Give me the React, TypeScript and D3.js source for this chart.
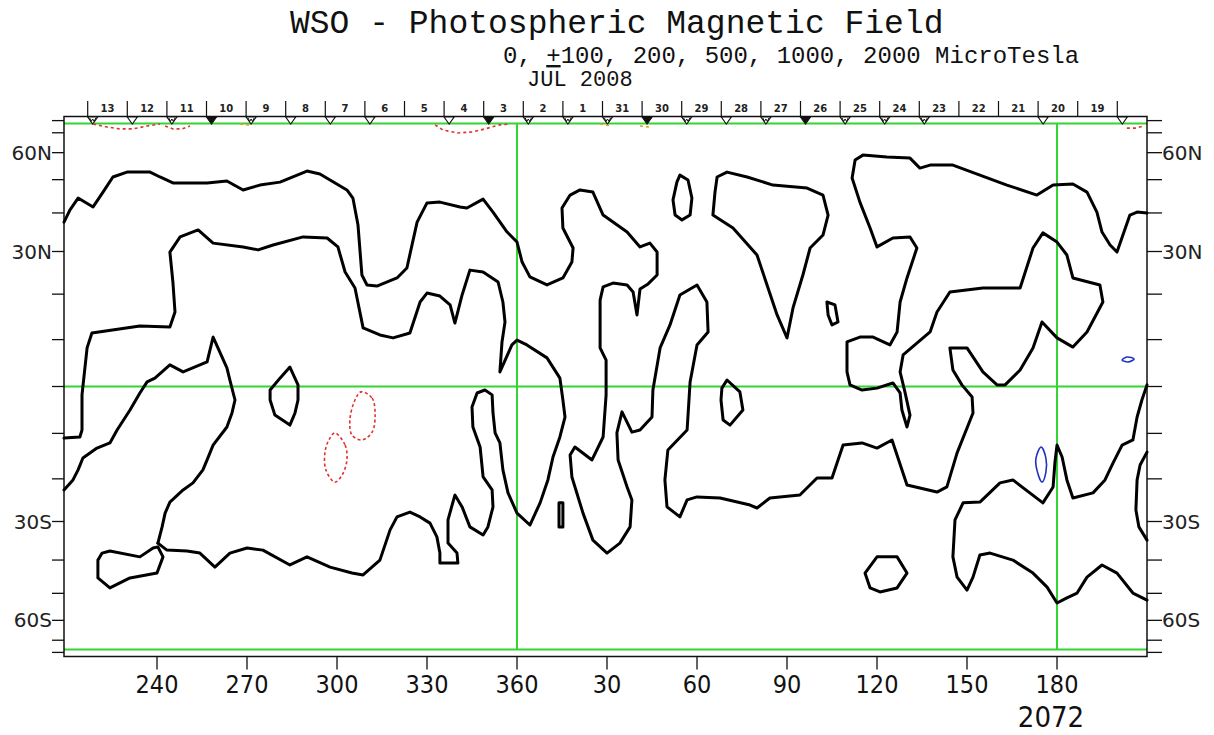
import React from 'react';
import * as d3 from 'd3';

// WSO synoptic map, Carrington rotation 2072.
// x: map longitude 210 -> 570 (one rotation, labels shown mod 360)
// y: sine latitude, -1 -> 1

const lonTicks = [240, 270, 300, 330, 360, 390, 420, 450, 480, 510, 540];
const lonTickLabels = ['240', '270', '300', '330', '360', '30', '60', '90', '120', '150', '180'];
const latTickDegs = [-80, -70, -60, -50, -40, -30, -20, -10, 0, 10, 20, 30, 40, 50, 60, 70, 80];
const latLabelDegs = [60, 30, -30, -60];
const latLabels = ['60N', '30N', '30S', '60S'];

// day bar along the top (July 2008 back into June)
const dayLabels = ['13', '12', '11', '10', '9', '8', '7', '6', '5', '4', '3', '2', '1', '31', '30', '29', '28', '27', '26', '25', '24', '23', '22', '21', '20', '19'];
const dayStartLon = 216.9;
const dayStepLon = 13.2;
// observation marks under each day boundary: v open, w double, f filled, - none
const dayMarks = ['w', 'v', 'w', 'f', 'w', 'v', 'v', 'v', '-', 'v', 'f', 'w', 'w', 'w', 'f', 'w', 'v', 'w', 'f', 'w', 'w', 'w', '-', '-', 'v', '-', 'v'];

// neutral line (0 contour), [lon, sinLat]
const neutralA = [[209,0.609],[211,0.654],[213.7,0.698],[218.7,0.665],[222,0.72],[225.3,0.776],[230,0.794],[237.7,0.794],[241,0.776],[245.3,0.754],[256.7,0.754],[263.3,0.761],[268.7,0.728],[274.3,0.746],[281,0.757],[290,0.798],[294.3,0.787],[303.3,0.728],[305.3,0.698],[307,0.598],[308.3,0.413],[310,0.376],[313.3,0.372],[320,0.402],[323.3,0.439],[326.7,0.609],[330,0.68],[334.3,0.683],[341,0.665],[343.3,0.661],[348.7,0.694],[352,0.646],[356.7,0.572],[360,0.535],[361.7,0.461],[364.3,0.406],[370,0.376],[375.3,0.402],[378.3,0.461],[378.7,0.513],[375.3,0.587],[375,0.661],[377.7,0.709],[381,0.728],[385.3,0.72],[388.7,0.635],[396.7,0.572],[401,0.517],[404.3,0.531],[406.7,0.498],[406.7,0.413],[403.7,0.38],[401,0.361],[400,0.265],[398.7,0.35],[396.7,0.376],[392,0.383],[388.7,0.369],[387.7,0.32],[387.7,0.143],[389.7,0.098],[389.7,-0.031],[388.7,-0.187],[385,-0.272],[379.3,-0.224],[377.7,-0.254],[378.3,-0.335],[382,-0.469],[385.3,-0.569],[390,-0.617],[394.3,-0.58],[397.7,-0.52],[398.3,-0.42],[396.7,-0.372],[393.7,-0.272],[393.3,-0.172],[395,-0.094],[398.3,-0.169],[401,-0.161],[405,-0.113],[405.3,-0.013],[407.7,0.143],[411,0.228],[414.3,0.339],[420,0.376],[423.3,0.313],[423.7,0.202],[420,0.154],[417.7,0.017],[416.7,-0.161],[410.3,-0.235],[409.3,-0.346],[410,-0.446],[414.3,-0.483],[416.7,-0.42],[420,-0.409],[427.7,-0.413],[437.7,-0.439],[440,-0.45],[444.3,-0.413],[454.3,-0.402],[460,-0.339],[465,-0.339],[468.7,-0.217],[475,-0.209],[480,-0.228],[485,-0.198],[490,-0.365],[500,-0.391],[503.3,-0.372],[506.7,-0.246],[512,-0.098],[511.7,-0.039],[508.3,0.006],[505.3,0.061],[504.3,0.143],[510,0.143],[515.3,0.054],[520,0.006],[522.7,0.006],[527.7,0.061],[532,0.143],[535,0.239],[540,0.18],[545.3,0.146],[550,0.202],[555.3,0.313],[554.3,0.376],[545.3,0.402],[543.3,0.487],[540,0.535],[535.3,0.569],[532,0.513],[527.7,0.365],[515.3,0.365],[504.3,0.35],[500,0.276],[497.7,0.202],[488.7,0.117],[487.7,0.054],[489.3,-0.02],[491,-0.106],[490,-0.15],[488.3,-0.087],[487.7,-0.024],[485.3,0.013],[480,-0.006],[475,-0.013],[471,0.006],[470,0.054],[470,0.165],[474.3,0.183],[478.7,0.183],[484.3,0.154],[486.7,0.202],[487.7,0.313],[490,0.402],[493.3,0.513],[491,0.554],[485.3,0.55],[480,0.517],[477.7,0.587],[474.3,0.683],[471.7,0.772],[472.7,0.839],[475.3,0.857],[483.3,0.85],[491,0.846],[494.3,0.809],[497.7,0.82],[505.3,0.82],[514.3,0.783],[523.3,0.746],[533.3,0.709],[538.7,0.746],[545.3,0.75],[550,0.72],[553.3,0.646],[555,0.572],[557.7,0.524],[560,0.498],[564.3,0.635],[566.7,0.646],[570,0.643]];
const neutralB = [[209,-0.191],[214.3,-0.187],[215,-0.161],[215,-0.031],[216.7,0.143],[218.3,0.198],[234.3,0.224],[244.3,0.22],[246,0.276],[245.3,0.387],[244.3,0.498],[247.7,0.554],[253.7,0.58],[258.7,0.531],[268.7,0.517],[273.7,0.506],[278.7,0.524],[288.7,0.554],[296.7,0.55],[300.3,0.517],[302.7,0.424],[306,0.365],[308.7,0.217],[314.3,0.191],[318.7,0.18],[324.3,0.198],[327.7,0.313],[330,0.346],[334.3,0.335],[337.7,0.302],[339.3,0.235],[341.7,0.339],[344.3,0.431],[348.7,0.424],[353.7,0.387],[355.3,0.313],[356,0.239],[355,0.165],[354.3,0.054],[358.3,0.154],[360,0.172],[363.3,0.154],[370,0.106],[374.3,0.031],[375.3,-0.05],[376,-0.113],[374.3,-0.187],[372,-0.261],[370.3,-0.346],[367.7,-0.431],[364.3,-0.513],[360,-0.469],[357,-0.394],[355.3,-0.309],[354.3,-0.209],[352.7,-0.172],[352,-0.098],[351.7,-0.031],[349.3,-0.013],[346.7,-0.024],[345,-0.076],[345.3,-0.15],[347.7,-0.224],[348.7,-0.335],[351.7,-0.383],[352,-0.446],[350.3,-0.52],[348.7,-0.55],[344.3,-0.52],[341.7,-0.446],[339.3,-0.402],[337,-0.494],[337,-0.58],[340,-0.617],[340.3,-0.654],[334.3,-0.654],[334.3,-0.617],[333.3,-0.557],[331,-0.506],[327.7,-0.483],[324.3,-0.465],[320,-0.483],[317.7,-0.531],[314.3,-0.643],[308.7,-0.698],[305,-0.691],[297.7,-0.669],[290,-0.631],[284.3,-0.661],[275.3,-0.606],[270,-0.598],[264.3,-0.617],[259.3,-0.669],[254.3,-0.617],[250,-0.609],[243.3,-0.606],[240.3,-0.58]];
const neutralC = [[240.3,-0.58],[241.7,-0.52],[242.7,-0.469],[244.3,-0.428],[248.7,-0.383],[252,-0.357],[255.3,-0.309],[256.7,-0.272],[258.7,-0.217],[263.3,-0.15],[265,-0.098],[266,-0.05],[264.3,0.024],[263.3,0.069],[258.7,0.183],[256.7,0.091],[248.7,0.054],[244.3,0.08],[239.3,0.031],[236.7,0.017],[234.3,-0.024],[231,-0.087],[226.7,-0.161],[224.3,-0.209],[220,-0.228],[215.3,-0.265],[213.7,-0.309],[212,-0.346],[209,-0.383]];
const neutralD = [[570,0.006],[568.3,-0.05],[566.7,-0.113],[565.3,-0.198],[561.7,-0.217],[558.7,-0.283],[556,-0.346],[552,-0.394],[545.3,-0.413],[543.3,-0.346],[541.7,-0.261],[540,-0.217],[539.3,-0.283],[538.7,-0.372],[535.3,-0.431],[525.3,-0.346],[521,-0.357],[514.3,-0.428],[508.7,-0.431],[506,-0.494],[505.3,-0.631],[506.7,-0.706],[510,-0.754],[512,-0.706],[514.3,-0.624],[517.7,-0.617],[525.3,-0.643],[532,-0.691],[536.7,-0.743],[540,-0.802],[543.3,-0.783],[546.7,-0.765],[550,-0.706],[555,-0.661],[560,-0.691],[565.3,-0.765],[570,-0.791]];
const neutralE = [[570,-0.243],[567.7,-0.291],[566.7,-0.346],[566.3,-0.457],[567.3,-0.52],[570,-0.569]];

// closed neutral-line islands
const islandSouthLobe = [[240.3,-0.594],[242,-0.631],[240,-0.691],[231,-0.709],[224.3,-0.746],[220.3,-0.709],[220.3,-0.643],[221.7,-0.617],[224.3,-0.609],[234.3,-0.631],[238.7,-0.598]];
const islandEq285 = [[284.3,0.072],[287,0.006],[287,-0.05],[286,-0.098],[284.3,-0.143],[279.3,-0.106],[277.7,-0.05],[277.7,-0.013],[281,0.031]];
const islandEq70 = [[430,0.024],[434.3,-0.02],[435.3,-0.087],[431,-0.143],[428.7,-0.124],[428,-0.05],[428.3,-0.006]];
const islandDash15 = [[374,-0.431],[375.3,-0.431],[375.3,-0.52],[374,-0.52]];
const islandNorth55 = [[414.3,0.783],[417,0.765],[418.3,0.698],[417.7,0.635],[415,0.617],[412.7,0.635],[412,0.691],[413.3,0.757]];
const islandTriangle = [[426.7,0.776],[430,0.794],[436.7,0.776],[445.3,0.746],[456.7,0.735],[462,0.709],[463.7,0.635],[462,0.561],[457.7,0.513],[455.3,0.413],[452,0.291],[450,0.18],[446.7,0.265],[440,0.487],[432,0.587],[425.3,0.635],[426,0.72]];
const islandSmall105 = [[463.3,0.313],[466,0.302],[467,0.239],[465,0.228],[463.7,0.265]];
const islandHex = [[476,-0.691],[480,-0.631],[486.7,-0.631],[490,-0.691],[486.7,-0.746],[481,-0.761],[477.7,-0.746]];

// negative (red dashed) and positive (blue) 100 uT contours
const negPolarArcs = [
  [[218.7,0.972],[223.3,0.961],[227.7,0.954],[232,0.954],[236.7,0.965],[241,0.972]],
  [[242.7,0.965],[245.3,0.954],[248.3,0.954],[251,0.965]],
  [[332.7,0.969],[335.3,0.95],[340.3,0.939],[345.3,0.943],[350.3,0.957],[354.3,0.969],[357.7,0.972]],
  [[563.3,0.957],[566.3,0.957],[569,0.965]],
];
const negLoops = [
  [[308,-0.02],[311.7,-0.043],[312.7,-0.106],[311.7,-0.169],[308.3,-0.198],[305,-0.18],[304.3,-0.124],[306,-0.05]],
  [[299.3,-0.172],[302.7,-0.217],[303.3,-0.272],[301.7,-0.328],[299.3,-0.354],[296.3,-0.309],[296,-0.243],[297.3,-0.198]],
];
const orangeBits = [
  [[267.7,0.972],[271.7,0.968]],
  [[387.7,0.972],[391.7,0.965]],
  [[401,0.965],[404.3,0.961]],
];
const posLoops = [
  [[561.7,0.098],[563.3,0.109],[565.7,0.102],[563.7,0.091]],
  [[534.7,-0.224],[536.3,-0.265],[536.3,-0.317],[535,-0.354],[533.3,-0.309],[533,-0.265]],
];

const openLines = [neutralA, neutralB, neutralC, neutralD, neutralE];
const closedLines = [islandSouthLobe, islandEq285, islandEq70, islandDash15, islandNorth55, islandTriangle, islandSmall105, islandHex];

const GREEN = '#35d435';

export default function App() {
  const W = 1214;
  const H = 735;
  const xs = d3.scaleLinear().domain([210, 570]).range([67, 1147]);
  const ys = d3.scaleLinear().domain([-1, 1]).range([656.5, 116.5]);
  const sinDeg = (d: number) => Math.sin((d * Math.PI) / 180);

  const line = d3.line<number[]>().x(d => xs(d[0])).y(d => ys(d[1]));
  const loop = d3.line<number[]>().x(d => xs(d[0])).y(d => ys(d[1])).curve(d3.curveLinearClosed);
  const smoothLoop = d3.line<number[]>().x(d => xs(d[0])).y(d => ys(d[1])).curve(d3.curveCatmullRomClosed);

  const left = xs(209);
  const right = xs(570);
  const top = ys(1);
  const bottom = ys(-1);
  const gTop = ys(0.974);
  const gBot = ys(-0.974);

  const numFont = "'Liberation Sans Narrow', 'DejaVu Sans Condensed', sans-serif";
  const monoFont = "'Liberation Mono', 'DejaVu Sans Mono', monospace";

  return (
    <svg width={W} height={H} style={{ position: 'absolute', left: 0, top: 0, background: '#fff' }}>
      <rect width={W} height={H} fill="#fff" />

      {/* titles */}
      <text x={290} y={33} fontFamily={monoFont} fontSize={33} fill="#111">WSO - Photospheric Magnetic Field</text>
      <text x={503} y={63} fontFamily={monoFont} fontSize={24} fill="#111">
        0, <tspan textDecoration="underline">+</tspan>100, 200, 500, 1000, 2000 MicroTesla
      </text>
      <text x={527} y={86} fontFamily={monoFont} fontSize={22} fill="#111">JUL 2008</text>

      {/* green reference lines */}
      <g stroke={GREEN} strokeWidth={2}>
        <line x1={left} x2={right} y1={gTop} y2={gTop} />
        <line x1={left} x2={right} y1={gBot} y2={gBot} />
        <line x1={left} x2={right} y1={ys(0)} y2={ys(0)} />
        <line x1={xs(360)} x2={xs(360)} y1={gTop} y2={gBot} />
        <line x1={xs(540)} x2={xs(540)} y1={gTop} y2={gBot} />
      </g>

      {/* frame */}
      <rect x={left} y={top} width={right - left} height={bottom - top} fill="none" stroke="#111" strokeWidth={1.5} />

      {/* latitude ticks and labels */}
      <g stroke="#111" strokeWidth={1.3}>
        {latTickDegs.map(d => (
          <g key={d}>
            <line x1={left - 12} x2={left} y1={ys(sinDeg(d))} y2={ys(sinDeg(d))} />
            <line x1={right} x2={right + 15} y1={ys(sinDeg(d))} y2={ys(sinDeg(d))} />
          </g>
        ))}
      </g>
      {latLabelDegs.map((d, i) => (
        <g key={d} fontFamily="'DejaVu Sans', sans-serif" fontSize={20} fill="#222">
          <text x={left - 12} y={ys(sinDeg(d)) + 7} textAnchor="end">{latLabels[i]}</text>
          <text x={right + 15} y={ys(sinDeg(d)) + 7}>{latLabels[i]}</text>
        </g>
      ))}

      {/* longitude ticks and labels */}
      {lonTicks.map((l, i) => (
        <g key={l}>
          <line x1={xs(l)} x2={xs(l)} y1={bottom} y2={bottom + 13} stroke="#111" strokeWidth={1.3} />
          <text x={xs(l)} y={bottom + 36} textAnchor="middle" fontFamily={numFont} fontSize={25} fill="#111">{lonTickLabels[i]}</text>
        </g>
      ))}
      <text x={1051} y={727} textAnchor="middle" fontFamily={numFont} fontSize={29} fill="#111">2072</text>

      {/* day bar */}
      <g stroke="#111" strokeWidth={1.2}>
        {dayMarks.map((m, k) => (
          <line key={k} x1={xs(dayStartLon + k * dayStepLon)} x2={xs(dayStartLon + k * dayStepLon)} y1={101} y2={top} />
        ))}
      </g>
      {dayLabels.map((lab, k) => (
        <text key={k} x={xs(dayStartLon + (k + 0.5) * dayStepLon)} y={112} textAnchor="middle"
          fontFamily="'DejaVu Sans', sans-serif" fontWeight="bold" fontSize={10} fill="#222">{lab}</text>
      ))}
      {dayMarks.map((m, k) => {
        if (m === '-') return null;
        const cx = xs(dayStartLon + k * dayStepLon) + 5;
        const tri = `M${cx - 5},${top + 0.5}L${cx + 5},${top + 0.5}L${cx},${top + 7.5}Z`;
        return (
          <g key={k}>
            <path d={tri} fill={m === 'f' ? '#111' : '#fff'} stroke="#111" strokeWidth={1.1} />
            {m === 'w' && (
              <path d={`M${cx - 3},${top + 1.5}L${cx - 1.5},${top + 5}L${cx},${top + 2.5}L${cx + 1.5},${top + 5}L${cx + 3},${top + 1.5}`}
                fill="none" stroke="#111" strokeWidth={1} />
            )}
          </g>
        );
      })}

      {/* 100 uT contours */}
      <g fill="none" strokeWidth={1.6}>
        {negPolarArcs.map((c, i) => <path key={'np' + i} d={line(c) || ''} stroke="#e23030" strokeDasharray="3,3" />)}
        {negLoops.map((c, i) => <path key={'nl' + i} d={smoothLoop(c) || ''} stroke="#e23030" strokeDasharray="3,2.5" />)}
        {orangeBits.map((c, i) => <path key={'ob' + i} d={line(c) || ''} stroke="#e0a020" strokeDasharray="3,3" />)}
        {posLoops.map((c, i) => <path key={'pl' + i} d={smoothLoop(c) || ''} stroke="#2030c0" />)}
      </g>

      {/* neutral line */}
      <g fill="none" stroke="#000" strokeWidth={3} strokeLinejoin="round" strokeLinecap="round">
        {openLines.map((c, i) => <path key={'o' + i} d={line(c) || ''} />)}
        {closedLines.map((c, i) => <path key={'c' + i} d={loop(c) || ''} />)}
      </g>
    </svg>
  );
}
